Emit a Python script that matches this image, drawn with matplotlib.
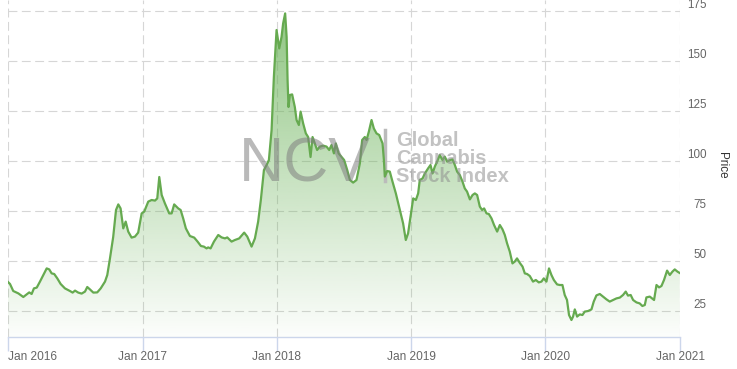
import matplotlib
matplotlib.use('Agg')
import matplotlib.pyplot as plt
import matplotlib.dates as mdates
import numpy as np
import pandas as pd

plt.rcParams['font.family'] = ['Liberation Sans', 'DejaVu Sans']

# time in years after 1 Jan 2016
years_since_2016 = [
    0.000, 0.015, 0.039, 0.077, 0.114, 0.139, 0.158, 0.176, 0.193, 0.214,
    0.238, 0.263, 0.288, 0.307, 0.325, 0.344, 0.367, 0.392, 0.424, 0.461,
    0.481, 0.499, 0.523, 0.548, 0.573, 0.590, 0.610, 0.635, 0.664, 0.690,
    0.722, 0.739, 0.759, 0.783, 0.804, 0.821, 0.838, 0.858, 0.876, 0.895,
    0.920, 0.945, 0.969, 0.995, 1.014, 1.044, 1.069, 1.094, 1.111, 1.126,
    1.144, 1.168, 1.200, 1.218, 1.237, 1.267, 1.285, 1.304, 1.324, 1.354,
    1.386, 1.411, 1.436, 1.458, 1.478, 1.490, 1.508, 1.533, 1.565, 1.590,
    1.615, 1.632, 1.664, 1.689, 1.721, 1.758, 1.781, 1.813, 1.838, 1.862,
    1.882, 1.905, 1.925, 1.942, 1.962, 1.979, 1.999, 2.019, 2.036, 2.048,
    2.063, 2.074, 2.081, 2.088, 2.098, 2.115, 2.135, 2.148, 2.165, 2.178,
    2.197, 2.217, 2.234, 2.252, 2.267, 2.284, 2.301, 2.321, 2.346, 2.371,
    2.391, 2.408, 2.426, 2.440, 2.461, 2.483, 2.502, 2.525, 2.545, 2.569,
    2.594, 2.619, 2.636, 2.656, 2.669, 2.686, 2.706, 2.723, 2.743, 2.763,
    2.788, 2.798, 2.805, 2.822, 2.842, 2.862, 2.887, 2.911, 2.929, 2.941,
    2.961, 2.978, 2.996, 3.016, 3.036, 3.053, 3.065, 3.086, 3.103, 3.127,
    3.145, 3.160, 3.177, 3.194, 3.214, 3.234, 3.251, 3.269, 3.289, 3.309,
    3.326, 3.343, 3.363, 3.383, 3.400, 3.417, 3.438, 3.458, 3.475, 3.492,
    3.512, 3.529, 3.544, 3.562, 3.579, 3.599, 3.618, 3.641, 3.661, 3.681,
    3.698, 3.715, 3.735, 3.755, 3.772, 3.789, 3.810, 3.830, 3.847, 3.864,
    3.884, 3.908, 3.929, 3.951, 3.971, 3.988, 4.008, 4.027, 4.045, 4.063,
    4.087, 4.107, 4.127, 4.144, 4.161, 4.176, 4.194, 4.206, 4.219, 4.236,
    4.256, 4.276, 4.293, 4.318, 4.343, 4.360, 4.380, 4.405, 4.429, 4.455,
    4.479, 4.504, 4.529, 4.554, 4.578, 4.598, 4.615, 4.635, 4.653, 4.678,
    4.702, 4.722, 4.740, 4.752, 4.777, 4.794, 4.809, 4.827, 4.846, 4.864,
    4.883, 4.906, 4.926, 4.946, 4.963, 4.983, 5.000,
]
price = [
    39.5, 38.5, 35.0, 33.8, 32.0, 33.3, 34.3, 33.5, 36.3, 36.7,
    39.7, 43.0, 46.3, 45.8, 43.8, 43.5, 41.3, 38.5, 36.3, 35.0,
    34.2, 35.2, 34.2, 33.7, 34.7, 37.0, 35.8, 34.2, 34.3, 36.3,
    39.7, 43.0, 51.3, 62.0, 75.5, 78.3, 76.3, 66.3, 69.7, 64.7,
    61.7, 62.2, 64.2, 73.8, 74.7, 79.7, 80.5, 80.2, 81.3, 92.0,
    83.0, 78.8, 73.8, 73.8, 78.3, 76.3, 75.5, 71.3, 66.3, 62.5,
    61.7, 59.7, 57.5, 57.2, 56.3, 56.8, 56.3, 59.7, 63.0, 61.8,
    61.3, 61.8, 59.7, 60.5, 61.3, 64.2, 62.2, 57.2, 61.3, 69.7,
    80.5, 95.5, 98.0, 100.5, 115.5, 142.0, 165.5, 156.3, 162.0, 168.8,
    173.8, 162.0, 140.5, 127.0, 133.0, 133.3, 127.0, 120.5, 118.0, 124.7,
    118.8, 113.8, 112.0, 102.0, 112.0, 108.8, 105.5, 107.2, 107.7, 107.2,
    105.5, 108.0, 103.8, 108.8, 103.8, 102.0, 100.5, 95.5, 90.5, 89.2,
    90.5, 98.8, 110.5, 112.0, 110.5, 114.7, 120.5, 116.3, 113.8, 113.0,
    108.8, 100.5, 92.2, 95.0, 94.7, 89.7, 83.8, 77.2, 72.2, 68.8,
    60.5, 63.8, 72.2, 81.3, 80.5, 83.8, 90.5, 91.3, 93.8, 96.3,
    98.0, 93.8, 97.2, 99.7, 103.0, 100.5, 102.2, 99.7, 100.5, 100.8,
    98.0, 94.7, 93.0, 89.7, 86.3, 84.7, 80.8, 83.0, 83.8, 83.0,
    77.2, 75.5, 76.3, 73.8, 73.5, 71.3, 68.0, 64.7, 68.0, 65.8,
    63.0, 58.8, 54.7, 48.8, 49.7, 51.3, 49.0, 47.2, 43.8, 43.5,
    42.5, 39.7, 40.5, 39.3, 39.7, 41.3, 39.7, 46.3, 43.0, 40.5,
    38.3, 38.0, 38.0, 33.0, 30.5, 23.0, 20.5, 22.2, 25.8, 22.2,
    23.3, 23.0, 24.7, 25.0, 25.8, 29.7, 32.8, 33.5, 32.2, 30.8,
    29.7, 30.5, 31.3, 31.7, 33.0, 34.7, 32.7, 33.0, 30.5, 29.3,
    28.8, 27.5, 28.0, 31.8, 32.2, 31.3, 30.5, 38.0, 36.8, 37.5,
    40.5, 45.2, 43.0, 44.7, 45.8, 44.7, 44.0,
]
year_ticks = [2016, 2017, 2018, 2019, 2020, 2021]
price_ticks = [25, 50, 75, 100, 125, 150, 175]

start = pd.Timestamp('2016-01-01')
dates = start + pd.to_timedelta(np.array(years_since_2016) * 365.25, unit='D')
dnum = mdates.date2num(dates)
price = np.array(price)

fig = plt.figure(figsize=(7.37, 3.69), dpi=100)
ax = fig.add_axes([8 / 737, 32 / 369, 672 / 737, 337 / 369])

x0 = mdates.date2num(pd.Timestamp('2016-01-01'))
x1 = mdates.date2num(pd.Timestamp('2021-01-01'))
ymin, ymax = 12, 180.5
ax.set_xlim(x0, x1)
ax.set_ylim(ymin, ymax)

# gradient fill under the line
poly = ax.fill_between(dnum, price, ymin, color='none', lw=0)
grad = np.zeros((256, 1, 4))
grad[:, 0, :3] = matplotlib.colors.to_rgb('#6cb35a')
grad[:, 0, 3] = np.linspace(0.75, 0.02, 256)
im = ax.imshow(grad, extent=[x0, x1, ymin, 175], aspect='auto', origin='upper', zorder=1)
im.set_clip_path(poly.get_paths()[0], transform=ax.transData)

ax.plot(dnum, price, color='#66aa50', lw=1.6, zorder=3)

# grid
ax.set_axisbelow(True)
ax.grid(True, color='#d6d6d6', linestyle=(0, (8, 4)), linewidth=0.8)

for s in ['top', 'left', 'right']:
    ax.spines[s].set_visible(False)
ax.spines['bottom'].set_color('#ccd6eb')
ax.spines['bottom'].set_linewidth(1)

xt = [mdates.date2num(pd.Timestamp(f'{y}-01-01')) for y in year_ticks]
ax.set_xticks(xt, [f'Jan {y}' for y in year_ticks])
ax.tick_params(axis='x', length=10, color='#ccd6eb', width=1, pad=0,
               labelsize=8.6, labelcolor='#666666')
ax.get_xticklabels()[0].set_ha('left')

ax.yaxis.tick_right()
ax.set_yticks(price_ticks, [str(v) for v in price_ticks])
ax.tick_params(axis='y', length=0, pad=19, labelsize=8.4, labelcolor='#666666')
for lbl in ax.get_yticklabels():
    lbl.set_ha('right')
    lbl.set_va('bottom')

fig.text(722 / 737, 1 - 165 / 369, 'Price', rotation=270, ha='center', va='center',
         fontsize=8.4, color='#333333')

# watermark
fig.text(239 / 737, 1 - 181.5 / 369, 'NCV', fontsize=45, color='#808080', alpha=0.55,
         ha='left', va='baseline', zorder=2)
ax.plot([385 / 737, 385 / 737], [1 - 181 / 369, 1 - 130 / 369], transform=fig.transFigure,
        color='#bbbbbb', lw=2.5, zorder=2, clip_on=False)
for i, w in enumerate(['Global', 'Cannabis', 'Stock Index']):
    fig.text(396 / 737, 1 - (146 + 18 * i) / 369, w, fontsize=14.5, fontweight='bold',
             color='#909090', alpha=0.55, ha='left', va='baseline')

fig.savefig('out.png', dpi=100)
